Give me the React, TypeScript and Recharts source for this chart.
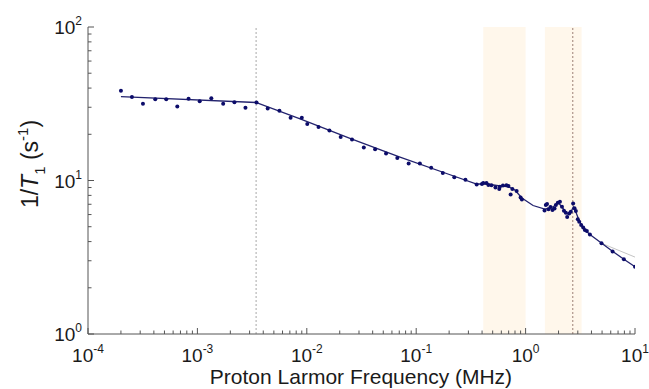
import React from 'react';
import { ComposedChart, Line, Scatter, XAxis, YAxis, ReferenceArea, ReferenceLine } from 'recharts';

// measured relaxation rates
const freqMHz = [
  2.0e-4, 2.52e-4, 3.18e-4, 4.12e-4, 5.19e-4, 6.55e-4, 8.3e-4, 1.05e-3, 1.34e-3, 1.72e-3,
  2.18e-3, 2.75e-3, 3.47e-3, 4.39e-3, 5.62e-3, 7.11e-3, 9.0e-3, 1.01e-2, 1.28e-2, 1.61e-2,
  2.04e-2, 2.59e-2, 3.32e-2, 4.21e-2, 5.3e-2, 6.72e-2, 8.53e-2, 0.108, 0.137, 0.175,
  0.223, 0.282, 0.357,
  0.399, 0.41, 0.439, 0.457, 0.487, 0.53, 0.574, 0.582, 0.621, 0.668, 0.697, 0.73, 0.757, 0.828, 0.9, 0.925,
  1.49, 1.53, 1.57, 1.62, 1.69, 1.76, 1.84, 1.89, 1.97, 2.06,
  2.15, 2.24, 2.33, 2.4, 2.5, 2.59, 2.72, 2.8, 2.88, 3.0,
  3.09, 3.22, 3.36, 3.48, 3.63, 3.87, 4.94, 6.24, 7.91, 10.0,
];
const rate = [
  38.5, 35.0, 31.6, 33.8, 33.8, 30.4, 34.1, 32.8, 34.4, 31.6,
  32.4, 29.8, 32.2, 29.5, 28.5, 25.6, 25.6, 23.3, 22.3, 21.2,
  19.2, 18.5, 16.4, 16.0, 15.0, 14.0, 12.9, 12.9, 12.1, 11.2,
  10.5, 10.1, 9.42,
  9.49, 9.64, 9.64, 9.35, 9.31, 9.0, 8.81, 9.12, 9.28, 9.31, 9.21, 8.11, 8.81, 8.55, 7.75, 7.52,
  6.38, 6.92, 7.03, 6.49, 6.72, 6.42, 6.57, 6.92, 7.16, 7.27,
  6.75, 6.35, 6.17, 5.78, 6.09, 6.26, 7.08, 6.59, 6.33, 5.59,
  5.39, 5.13, 4.94, 4.76, 4.69, 4.45, 3.9, 3.45, 3.07, 2.74,
];

// model fit
const fitFreq = [
  2.0e-4, 3.47e-3, 8.69e-3, 2.48e-2, 7.11e-2, 0.204, 0.357, 0.444, 0.582, 0.689,
  0.798, 0.925, 1.17, 1.5, 1.74, 2.01, 2.15, 2.38, 2.54, 2.73,
  2.88, 3.07, 3.41, 3.87, 4.96, 6.27, 7.91, 10.0,
];
const fitRate = [
  35.2, 32.2, 25.2, 18.8, 14.2, 10.9, 9.49, 9.49, 9.21, 9.14,
  8.67, 7.69, 6.87, 6.52, 6.67, 7.13, 6.72, 6.09, 6.05, 6.72,
  6.23, 5.53, 4.83, 4.45, 3.9, 3.45, 3.07, 2.74,
];

// alternative fit (light grey)
const altFreq = [4.94, 10.0];
const altRate = [3.9, 3.17];

const bands = [[0.41, 1.0], [1.5, 3.25]];
const markers = [
  { x: 3.44e-3, color: '#a8a8a8' },
  { x: 2.7, color: '#9c7f74' },
];

const xMajor = [1e-4, 1e-3, 1e-2, 1e-1, 1, 10];
const xExp = ['-4', '-3', '-2', '-1', '0', '1'];
const yMajor = [1, 10, 100];
const yExp = ['0', '1', '2'];
const minorMult = [2, 3, 4, 5, 6, 7, 8, 9];

const withMinor = (major: number[]) =>
  major.flatMap((m, i) => (i < major.length - 1 ? [m, ...minorMult.map((k) => k * m)] : [m]));

const points = freqMHz.map((x, i) => ({ x, y: rate[i] }));
const fit = fitFreq.map((x, i) => ({ x, y: fitRate[i] }));
const alt = altFreq.map((x, i) => ({ x, y: altRate[i] }));

const AXIS = '#555';
const FONT = '"Liberation Sans", Arial, sans-serif';

function XTick({ x, y, payload }: any) {
  const i = xMajor.indexOf(payload.value);
  return (
    <g>
      <line x1={x} x2={x} y1={y} y2={y - (i >= 0 ? 6 : 3.5)} stroke={AXIS} strokeWidth={1}/>
      {i >= 0 && (
        <text x={x} y={y + 28} textAnchor="middle" fontSize={19} fill="#1a1a1a" fontFamily={FONT}>
          10<tspan dy={-9} fontSize={12}>{xExp[i]}</tspan>
        </text>
      )}
    </g>
  );
}

function YTick({ x, y, payload }: any) {
  const i = yMajor.indexOf(payload.value);
  return (
    <g>
      <line x1={x} x2={x + (i >= 0 ? 6 : 3.5)} y1={y} y2={y} stroke={AXIS} strokeWidth={1}/>
      {i >= 0 && (
        <text x={x - 6} y={y + 7} textAnchor="end" fontSize={19} fill="#1a1a1a" fontFamily={FONT}>
          10<tspan dy={-9} fontSize={12}>{yExp[i]}</tspan>
        </text>
      )}
    </g>
  );
}

export default function App() {
  return (
    <div style={{ position: 'absolute', left: 0, top: 0, width: 649, height: 389, background: '#fff', fontFamily: FONT }}>
      <ComposedChart width={649} height={389} margin={{ top: 27, right: 14, left: 28, bottom: 10 }}>
        <XAxis
          dataKey="x"
          type="number"
          scale="log"
          domain={[1e-4, 10]}
          allowDataOverflow
          ticks={withMinor(xMajor)}
          interval={0}
          tickSize={0}
          tickMargin={0}
          tick={<XTick/>}
          axisLine={{ stroke: AXIS }}
          height={45}
        />
        <YAxis
          dataKey="y"
          type="number"
          scale="log"
          domain={[1, 100]}
          allowDataOverflow
          ticks={withMinor(yMajor)}
          interval={0}
          tickSize={0}
          tickMargin={0}
          tick={<YTick/>}
          axisLine={{ stroke: AXIS }}
          width={60}
        />
        {bands.map(([a, b]) => (
          <ReferenceArea key={a} x1={a} x2={b} fill="#fff7eb" fillOpacity={1} stroke="none" ifOverflow="hidden"/>
        ))}
        {markers.map((m) => (
          <ReferenceLine key={m.x} x={m.x} stroke={m.color} strokeDasharray="2 2" strokeWidth={1}/>
        ))}
        <Line data={alt} dataKey="y" type="linear" stroke="#c4c4c4" strokeWidth={1} dot={false} isAnimationActive={false}/>
        <Line data={fit} dataKey="y" type="linear" stroke="#23236e" strokeWidth={1.3} dot={false} isAnimationActive={false}/>
        <Scatter
          data={points}
          fill="#0c0c6a"
          isAnimationActive={false}
          shape={(p: any) => <circle cx={p.cx} cy={p.cy} r={2} fill="#0c0c6a"/>}
        />
      </ComposedChart>
      <svg width={649} height={389} style={{ position: 'absolute', left: 0, top: 0, pointerEvents: 'none' }}>
        <text x={361} y={384} textAnchor="middle" fontSize={21} fill="#1a1a1a" fontFamily={FONT}>
          Proton Larmor Frequency (MHz)
        </text>
        <text x={38} y={164} transform="rotate(-90, 38, 164)" textAnchor="middle" fontSize={23} fill="#1a1a1a" fontFamily={FONT}>
          1/<tspan fontStyle="italic">T</tspan>
          <tspan dy={7} fontSize={15}>1</tspan>
          <tspan dy={-7}>{'\u00a0(s'}</tspan>
          <tspan dy={-10} fontSize={15}>-1</tspan>
          <tspan dy={10}>)</tspan>
        </text>
      </svg>
    </div>
  );
}
